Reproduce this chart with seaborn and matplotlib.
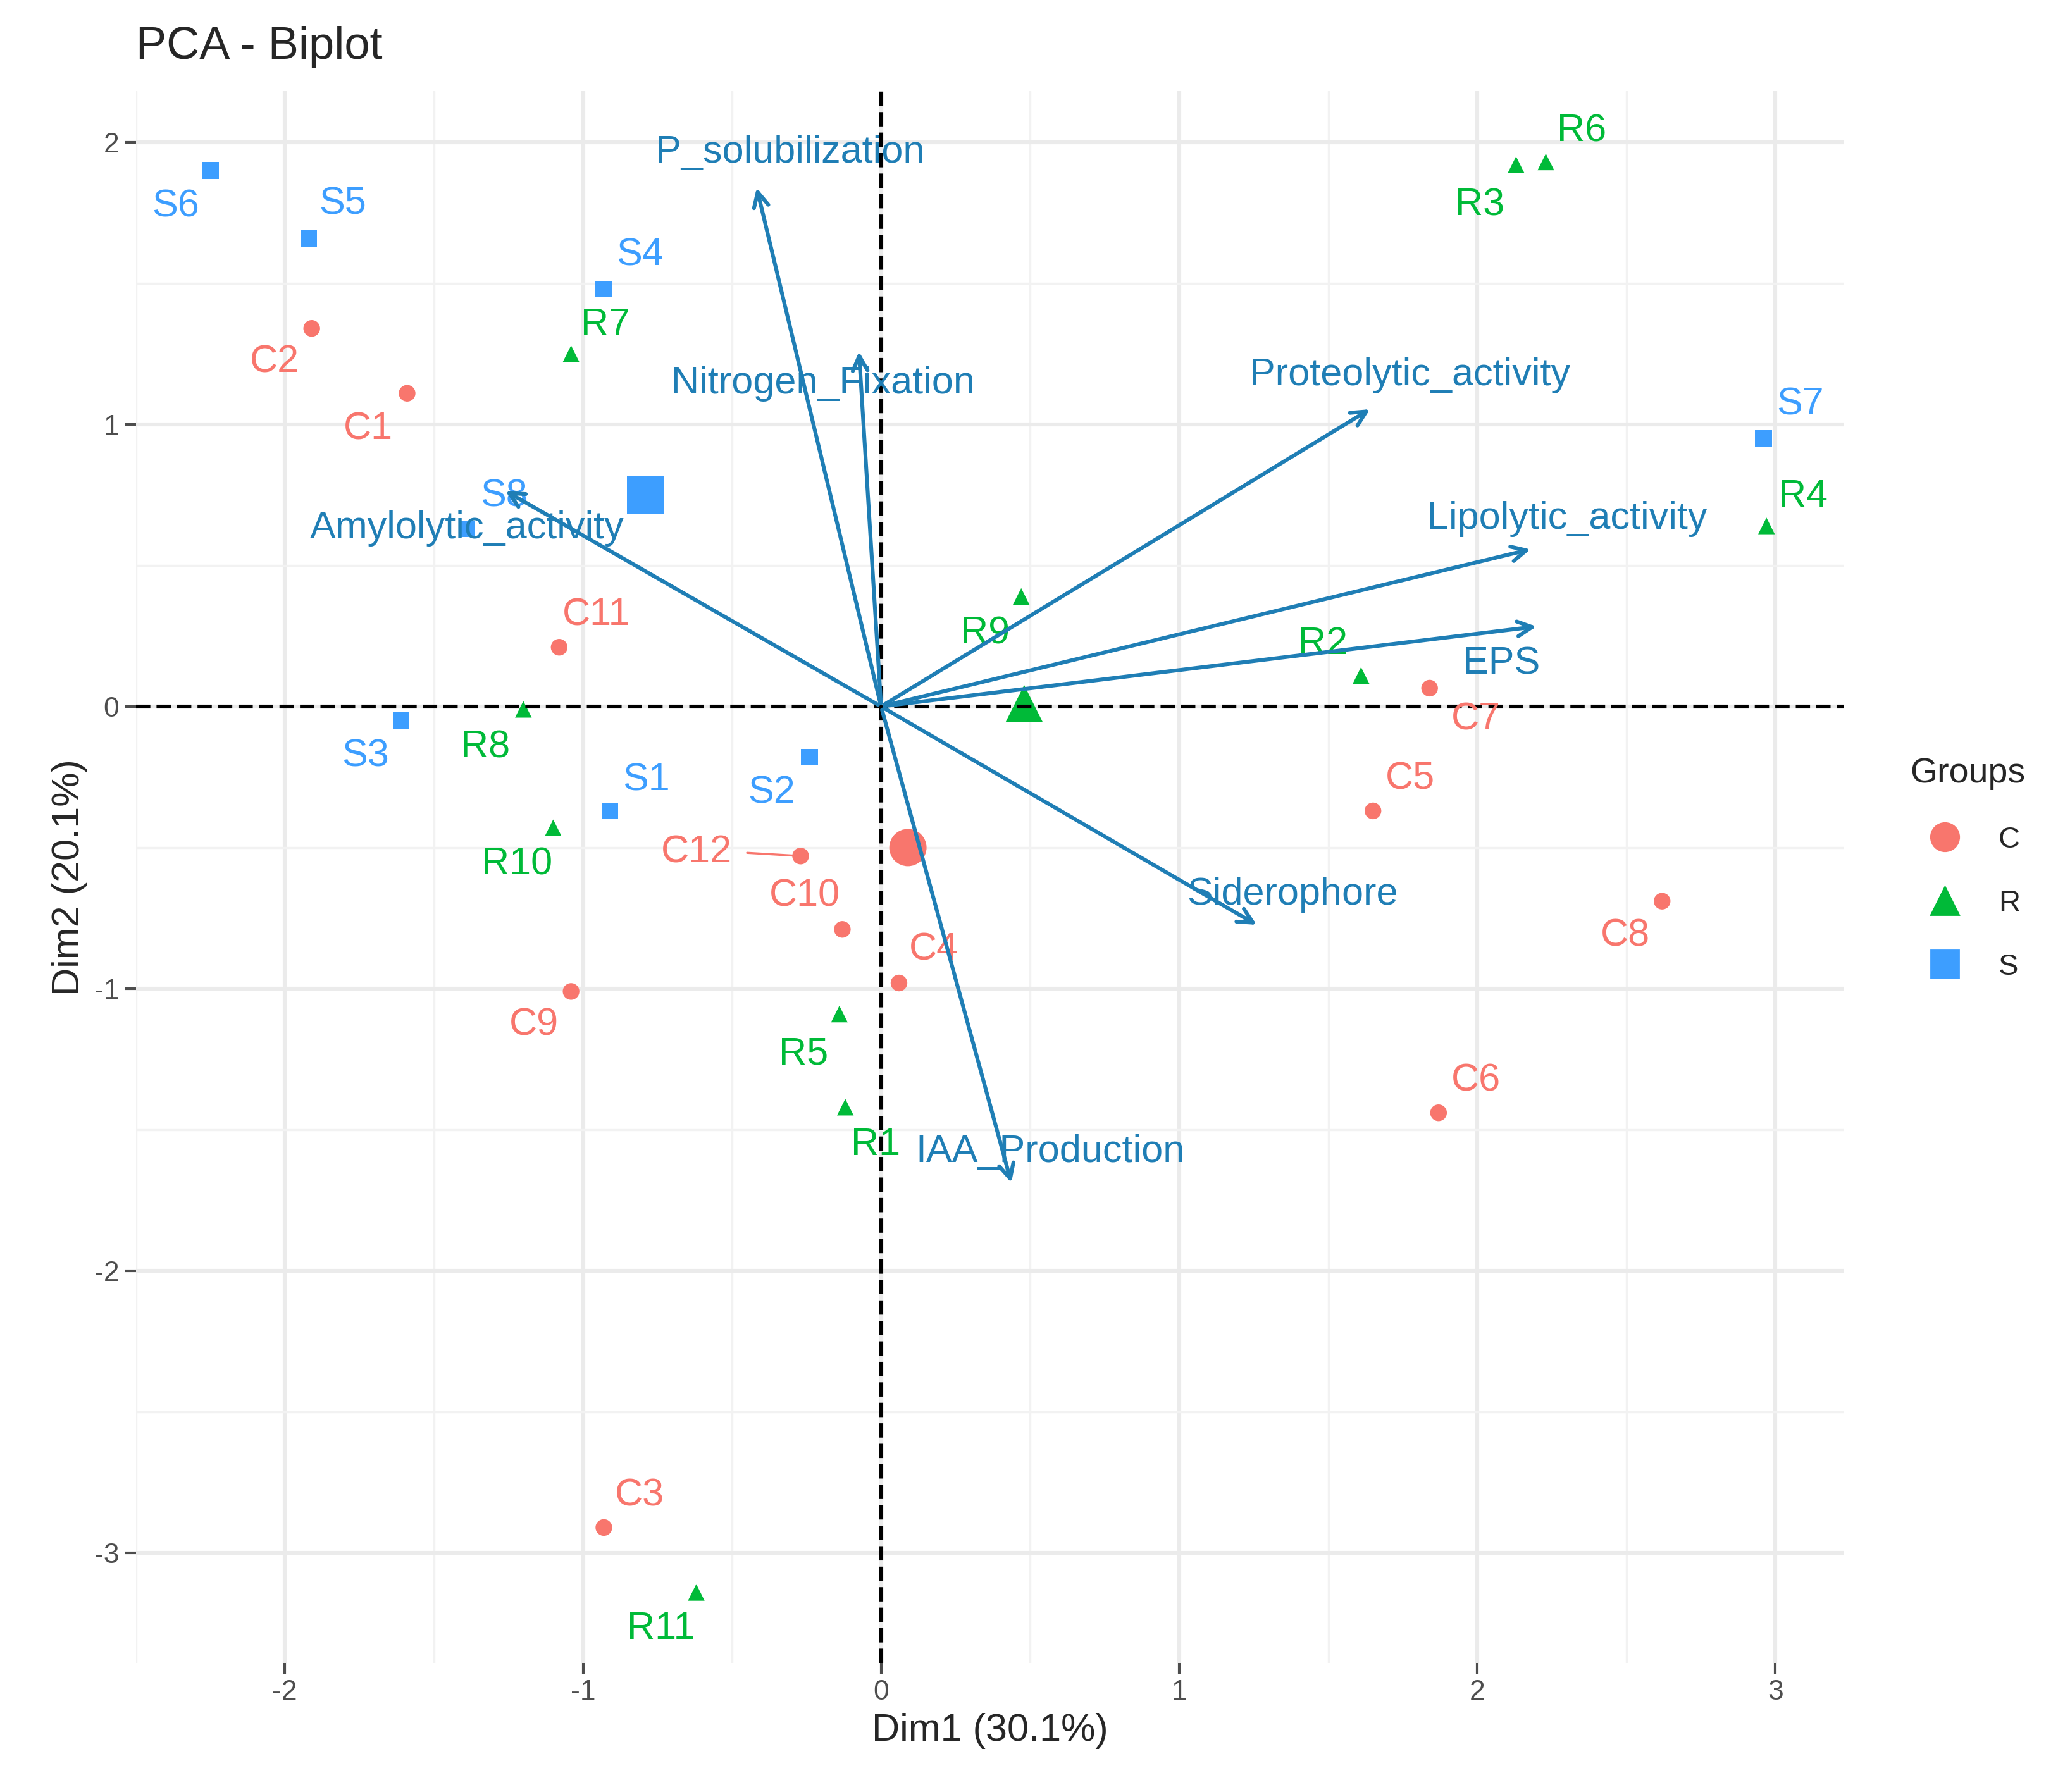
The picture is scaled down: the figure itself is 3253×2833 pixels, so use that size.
import numpy as np
import pandas as pd
import matplotlib
matplotlib.use("Agg")
import matplotlib.pyplot as plt
import seaborn as sns
from matplotlib.lines import Line2D

# ---- data ----
ind_names = ["C1","C2","C3","C4","C5","C6","C7","C8","C9","C10","C11","C12",
             "R1","R2","R3","R4","R5","R6","R7","R8","R9","R10","R11",
             "S1","S2","S3","S4","S5","S6","S7","S8"]
ind_groups = ["C"]*12 + ["R"]*11 + ["S"]*8
dim1 = [-1.59,-1.91,-0.93,0.06,1.65,1.87,1.84,2.62,-1.04,-0.13,-1.08,-0.27,
        -0.12,1.61,2.13,2.97,-0.14,2.23,-1.04,-1.20,0.47,-1.10,-0.62,
        -0.91,-0.24,-1.61,-0.93,-1.92,-2.25,2.96,-1.39]
dim2 = [1.11,1.34,-2.91,-0.98,-0.37,-1.44,0.065,-0.69,-1.01,-0.79,0.21,-0.53,
        -1.42,0.11,1.92,0.64,-1.09,1.93,1.25,-0.01,0.39,-0.43,-3.14,
        -0.37,-0.18,-0.05,1.48,1.66,1.90,0.95,0.63]
group_names = ["C","R","S"]
centroid_x = [0.09, 0.48, -0.79]
centroid_y = [-0.50, 0.01, 0.75]
var_names = ["P_solubilization","Nitrogen_Fixation","Amylolytic_activity","Proteolytic_activity",
             "Lipolytic_activity","EPS","Siderophore","IAA_Production"]
var_x = [-0.42,-0.075,-1.27,1.65,2.19,2.21,1.27,0.44]
var_y = [1.85,1.27,0.77,1.06,0.56,0.285,-0.78,-1.70]

# ---- layout (label centres, in reference pixel space) ----
def px2d(px, py):
    return ((px-669)/226.0, (537-py)/214.0)
ind_label_px = {"C1":(280,327),"C2":(209,276),"C3":(486,1136),"C4":(709,722),"C5":(1070,592),
    "C6":(1120,821),"C7":(1120,547),"C8":(1233,711),"C9":(406,779),"C10":(611,681),"C11":(453,468),
    "C12":(529,648),"R1":(665,870),"R2":(1004,490),"R3":(1123,157),"R4":(1368,378),"R5":(610,801),
    "R6":(1200,101),"R7":(460,248),"R8":(369,568),"R9":(748,482),"R10":(393,657),"R11":(502,1237),
    "S1":(491,593),"S2":(586,603),"S3":(278,575),"S4":(486,195),"S5":(261,156),"S6":(134,158),
    "S7":(1366,308),"S8":(383,378)}
var_label_px = [(600,117),(625,292),(355,402),(1070,286),(1189,395),(1139,505),(981,680),(797,875)]

colors = {"C":"#F8766D","R":"#00BA38","S":"#3D9EFF"}
markers = {"C":"o","R":"^","S":"s"}
arrow_col = "#1F7EB5"

sns.set_theme(style="whitegrid")
plt.rcParams['font.family'] = ['Liberation Sans', 'DejaVu Sans']
fig = plt.figure(figsize=(16.265,14.165), dpi=200)
ax = fig.add_axes([0.066,0.072,0.83,0.877])
df = pd.DataFrame({"name":ind_names,"group":ind_groups,"Dim1":dim1,"Dim2":dim2})
sns.scatterplot(data=df, x="Dim1", y="Dim2", hue="group", style="group",
                palette=colors, markers=markers, s=90, edgecolor="none", ax=ax, legend=False)
cdf = pd.DataFrame({"group":group_names,"x":centroid_x,"y":centroid_y})
sns.scatterplot(data=cdf, x="x", y="y", hue="group", style="group", palette=colors,
                markers=markers, s=450, edgecolor="none", ax=ax, legend=False)
for n,g,x,y in zip(ind_names, ind_groups, dim1, dim2):
    lx, ly = px2d(*ind_label_px[n])
    if n == "C12":
        ax.plot([lx+0.17, x], [ly, y], color=colors[g], lw=1.2)
    ax.text(lx, ly, n, color=colors[g], fontsize=22, ha="center", va="center")
for n,x,y,lp in zip(var_names, var_x, var_y, var_label_px):
    ax.annotate("", xy=(x,y), xytext=(0,0),
                arrowprops=dict(arrowstyle="->,head_length=0.7,head_width=0.35", color=arrow_col, lw=2.2))
    lx, ly = px2d(*lp)
    ax.text(lx, ly, n, color=arrow_col, fontsize=22, ha="center", va="center")
ax.axhline(0, color="black", ls="--", lw=2.2)
ax.axvline(0, color="black", ls="--", lw=2.2)
ax.set_xlim(-2.5, 3.23)
ax.set_ylim(-3.39, 2.18)
ax.set_xticks([-2,-1,0,1,2,3]); ax.set_yticks([-3,-2,-1,0,1,2])
ax.set_xticklabels(["-2","-1","0","1","2","3"]); ax.set_yticklabels(["-3","-2","-1","0","1","2"])
ax.set_xticks(np.arange(-2.5,3.3,1), minor=True); ax.set_yticks(np.arange(-2.5,2.2,1), minor=True)
ax.grid(True, which="major", color="#EBEBEB", lw=2.2)
ax.grid(True, which="minor", color="#F2F2F2", lw=1.2)
for s in ax.spines.values(): s.set_visible(False)
ax.tick_params(axis="both", labelsize=16, colors="#4D4D4D", length=6, width=1.5, direction="out",
               left=True, bottom=True)
ax.set_xlabel("Dim1 (30.1%)", fontsize=22)
ax.set_ylabel("Dim2 (20.1%)", fontsize=22)
fig.text(0.066, 0.962, "PCA - Biplot", fontsize=26, va="bottom")
handles = [Line2D([],[],ls="none",marker=markers[g],color=colors[g],markersize=16) for g in group_names]
fig.legend(handles, group_names, title="Groups", loc="center left", bbox_to_anchor=(0.915,0.515),
           frameon=False, fontsize=17, title_fontsize=20, labelspacing=1.2)
fig.savefig("out.png", dpi=200)
